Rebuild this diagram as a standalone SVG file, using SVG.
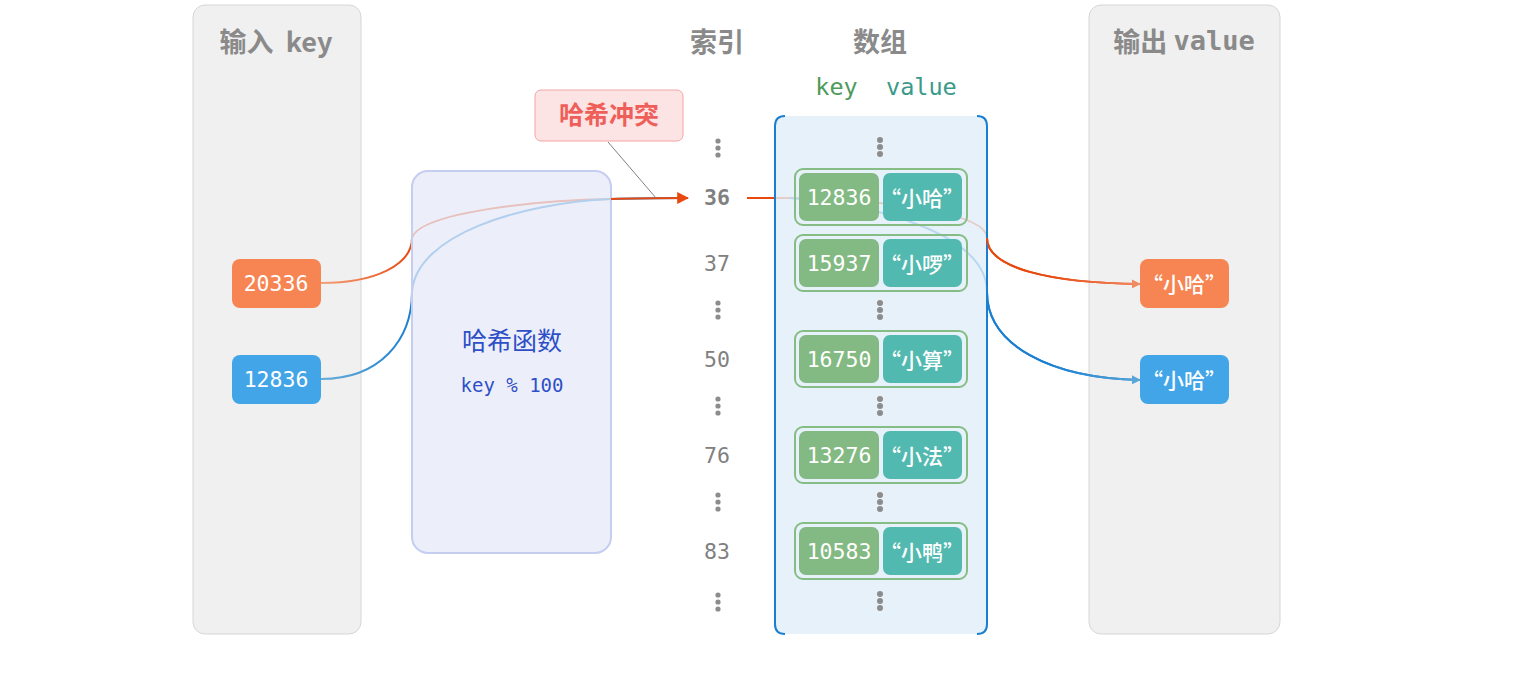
<svg xmlns="http://www.w3.org/2000/svg" width="1529" height="700" viewBox="0 0 1529 700">
<style>
.panel{fill:#f0f0f0;stroke:#d6d6d6;stroke-width:1}
.title{font-family:"Noto Sans CJK SC","Liberation Sans",sans-serif;font-weight:bold;font-size:27px;fill:#8a8a8a;text-anchor:middle;dominant-baseline:central}
.mono{font-family:"DejaVu Sans Mono","Liberation Mono",monospace}
.num{font-family:"DejaVu Sans Mono","Liberation Mono",monospace;font-size:21.5px;fill:#ffffff;text-anchor:middle;dominant-baseline:central}
.cjkw{font-family:"Noto Sans CJK SC",sans-serif;font-size:21px;fill:#ffffff;text-anchor:middle;dominant-baseline:central;font-weight:500}
.idx{font-family:"DejaVu Sans Mono","Liberation Mono",monospace;font-size:21.5px;fill:#808080;text-anchor:middle;dominant-baseline:central}
.row{fill:none;stroke:#85bd85;stroke-width:2}
.kc{fill:#83b982}
.vc{fill:#52b9b0}
.dot{fill:#8c8c8c}
</style>
<defs>
<marker id="arrO2" viewBox="0 0 10 10" refX="9" refY="5" markerWidth="9" markerHeight="9" orient="auto" markerUnits="userSpaceOnUse"><path d="M0,0 L10,5 L0,10 z" fill="#f08a60"/></marker>
<marker id="arrB2" viewBox="0 0 10 10" refX="9" refY="5" markerWidth="9" markerHeight="9" orient="auto" markerUnits="userSpaceOnUse"><path d="M0,0 L10,5 L0,10 z" fill="#5aa5d8"/></marker>
<marker id="arrOh" viewBox="0 0 10 10" refX="9" refY="5" markerWidth="12" markerHeight="12" orient="auto" markerUnits="userSpaceOnUse"><path d="M0,0 L10,5 L0,10 z" fill="#e8490f"/></marker>
<linearGradient id="gOL" gradientUnits="userSpaceOnUse" x1="321" y1="0" x2="412" y2="0"><stop offset="0" stop-color="#f4a07a"/><stop offset="1" stop-color="#e8490f"/></linearGradient>
<linearGradient id="gBL" gradientUnits="userSpaceOnUse" x1="321" y1="0" x2="412" y2="0"><stop offset="0" stop-color="#6aaed8"/><stop offset="1" stop-color="#1a7fd0"/></linearGradient>
<linearGradient id="gOR" gradientUnits="userSpaceOnUse" x1="987" y1="0" x2="1140" y2="0"><stop offset="0" stop-color="#e8490f"/><stop offset="0.4" stop-color="#e8490f"/><stop offset="1" stop-color="#f08a60"/></linearGradient>
<linearGradient id="gBR" gradientUnits="userSpaceOnUse" x1="987" y1="0" x2="1140" y2="0"><stop offset="0" stop-color="#1a7fd0"/><stop offset="0.4" stop-color="#1a7fd0"/><stop offset="1" stop-color="#5aa5d8"/></linearGradient>
</defs>

<g id="input-panel">
<rect class="panel" x="193" y="5" width="168" height="629" rx="12"/>
<text class="title" x="276" y="40" xml:space="preserve">输入  key</text>
</g>
<g id="output-panel">
<rect class="panel" x="1089" y="5" width="191" height="629" rx="12"/>
<text class="title" x="1184" y="40">输出 <tspan class="mono">value</tspan></text>
</g>

<g id="connectors" fill="none" stroke-width="2">
<path d="M321,283 C375,283 412,265 412,238 C420,212 540,200 611,199" stroke="url(#gOL)"/>
<path d="M321,379 C380,379 412,340 412,292 C416,235 520,203 611,199" stroke="url(#gBL)"/>
<path d="M747,198 L790,198 C900,200 987,215 987,238 C987,268 1050,283 1140,284" stroke="#e8490f"/>
<path d="M790,198 C880,205 987,235 987,292 C987,345 1050,378 1140,380" stroke="#1a7fd0"/>
</g>

<g id="hash-function">
<rect x="412" y="171" width="199" height="382" rx="16" fill="#e6eaf8" fill-opacity="0.75" stroke="#c5cdf0" stroke-width="2"/>
<text x="512" y="339" font-family="Noto Sans CJK SC,sans-serif" font-size="25" fill="#2e4fc6" text-anchor="middle" dominant-baseline="central">哈希函数</text>
<text x="512" y="385" class="mono" font-size="19" fill="#2e4fc6" text-anchor="middle" dominant-baseline="central">key % 100</text>
</g>

<g id="arrow-to-index" fill="none" stroke-width="2">
<path d="M611,199 C640,198 660,198 688,198" stroke="#1a7fd0"/>
<path d="M611,199 C640,198 660,198 688,198" stroke="#e8490f" marker-end="url(#arrOh)"/>
</g>

<g id="array">
<rect x="775" y="116" width="212" height="518" rx="10" fill="#e1eef9" fill-opacity="0.8"/>
<path d="M785,116 Q775,116 775,126 L775,624 Q775,634 785,634 M977,116 Q987,116 987,126 L987,624 Q987,634 977,634" fill="none" stroke="#1a7fd0" stroke-width="2"/>
</g>

<g id="right-arrows" fill="none" stroke-width="2">
<path d="M987,238 C987,268 1050,283 1140,284" stroke="url(#gOR)" marker-end="url(#arrO2)"/>
<path d="M987,292 C987,345 1050,378 1140,380" stroke="url(#gBR)" marker-end="url(#arrB2)"/>
</g>

<g id="collision-label">
<line x1="608" y1="142" x2="656" y2="198" stroke="#808080" stroke-width="1"/>
<rect x="535" y="90" width="148" height="51" rx="6" fill="#fde4e4" stroke="#f2a5a5" stroke-width="1"/>
<text x="609" y="113" font-family="Noto Sans CJK SC,sans-serif" font-weight="bold" font-size="25" fill="#ef5f5a" text-anchor="middle" dominant-baseline="central">哈希冲突</text>
</g>

<g id="headers">
<text class="title" x="717" y="40">索引</text>
<text class="title" x="880" y="40">数组</text>
<text x="886" y="87" class="mono" font-size="23.5" text-anchor="middle" dominant-baseline="central"><tspan fill="#4e9a5a">key</tspan><tspan fill="#3a9a8a" xml:space="preserve">  value</tspan></text>
</g>

<g id="index-column">
<text class="idx" x="717" y="197" font-weight="bold">36</text>
<text class="idx" x="717" y="263">37</text>
<text class="idx" x="717" y="359">50</text>
<text class="idx" x="717" y="455">76</text>
<text class="idx" x="717" y="551">83</text>
<g class="dot">
<circle cx="718" cy="141" r="2.6"/><circle cx="718" cy="148" r="2.6"/><circle cx="718" cy="155" r="2.6"/>
<circle cx="718" cy="303" r="2.6"/><circle cx="718" cy="310" r="2.6"/><circle cx="718" cy="317" r="2.6"/>
<circle cx="718" cy="399" r="2.6"/><circle cx="718" cy="406" r="2.6"/><circle cx="718" cy="413" r="2.6"/>
<circle cx="718" cy="495" r="2.6"/><circle cx="718" cy="502" r="2.6"/><circle cx="718" cy="509" r="2.6"/>
<circle cx="718" cy="595" r="2.6"/><circle cx="718" cy="602" r="2.6"/><circle cx="718" cy="609" r="2.6"/>
</g>
</g>

<g id="array-dots" class="dot">
<circle cx="880" cy="140" r="3"/><circle cx="880" cy="147" r="3"/><circle cx="880" cy="154" r="3"/>
<circle cx="880" cy="303" r="3"/><circle cx="880" cy="310" r="3"/><circle cx="880" cy="317" r="3"/>
<circle cx="880" cy="399" r="3"/><circle cx="880" cy="406" r="3"/><circle cx="880" cy="413" r="3"/>
<circle cx="880" cy="495" r="3"/><circle cx="880" cy="502" r="3"/><circle cx="880" cy="509" r="3"/>
<circle cx="880" cy="594" r="3"/><circle cx="880" cy="601" r="3"/><circle cx="880" cy="608" r="3"/>
</g>

<g id="row-36">
<rect class="row" x="795" y="169" width="172" height="56" rx="8"/>
<rect class="kc" x="799" y="173" width="80" height="48" rx="7"/>
<rect class="vc" x="883" y="173" width="79" height="48" rx="7"/>
<text class="num" x="839" y="197">12836</text>
<text class="cjkw" x="922" y="197">“小哈”</text>
</g>
<g id="row-37">
<rect class="row" x="795" y="235" width="172" height="56" rx="8"/>
<rect class="kc" x="799" y="239" width="80" height="48" rx="7"/>
<rect class="vc" x="883" y="239" width="79" height="48" rx="7"/>
<text class="num" x="839" y="263">15937</text>
<text class="cjkw" x="922" y="263">“小啰”</text>
</g>
<g id="row-50">
<rect class="row" x="795" y="331" width="172" height="56" rx="8"/>
<rect class="kc" x="799" y="335" width="80" height="48" rx="7"/>
<rect class="vc" x="883" y="335" width="79" height="48" rx="7"/>
<text class="num" x="839" y="359">16750</text>
<text class="cjkw" x="922" y="359">“小算”</text>
</g>
<g id="row-76">
<rect class="row" x="795" y="427" width="172" height="56" rx="8"/>
<rect class="kc" x="799" y="431" width="80" height="48" rx="7"/>
<rect class="vc" x="883" y="431" width="79" height="48" rx="7"/>
<text class="num" x="839" y="455">13276</text>
<text class="cjkw" x="922" y="455">“小法”</text>
</g>
<g id="row-83">
<rect class="row" x="795" y="523" width="172" height="56" rx="8"/>
<rect class="kc" x="799" y="527" width="80" height="48" rx="7"/>
<rect class="vc" x="883" y="527" width="79" height="48" rx="7"/>
<text class="num" x="839" y="551">10583</text>
<text class="cjkw" x="922" y="551">“小鸭”</text>
</g>

<g id="key-20336">
<rect x="232" y="259" width="89" height="49" rx="8" fill="#f78553"/>
<text class="num" x="276" y="283">20336</text>
</g>
<g id="key-12836">
<rect x="232" y="355" width="89" height="49" rx="8" fill="#42a5e8"/>
<text class="num" x="276" y="379">12836</text>
</g>
<g id="value-orange">
<rect x="1140" y="259" width="89" height="49" rx="8" fill="#f78553"/>
<text class="cjkw" x="1184" y="283">“小哈”</text>
</g>
<g id="value-blue">
<rect x="1140" y="355" width="89" height="49" rx="8" fill="#42a5e8"/>
<text class="cjkw" x="1184" y="379">“小哈”</text>
</g>
</svg>
